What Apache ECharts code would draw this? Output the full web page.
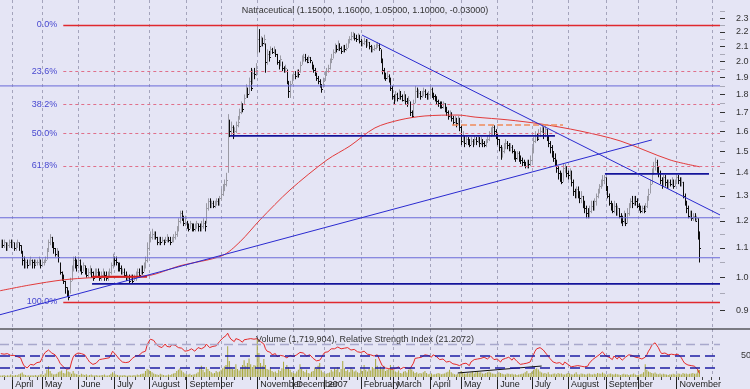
<!DOCTYPE html>
<html><head><meta charset="utf-8">
<script src="https://cdn.jsdelivr.net/npm/echarts@6/dist/echarts.min.js"></script>
<style>html,body{margin:0;padding:0;background:#e5e5f5;}#c{width:750px;height:389px;}</style>
</head><body><div id="c"></div>
<script>
// ---------------- DATA (x = trading-day index, starting 23 Mar 2006) ----------------
const hi = [
1.13,1.13,1.13,1.12,1.12,1.13,1.13,1.13,1.12,1.12,
1.13,1.12,1.11,1.09,1.07,1.06,1.06,1.06,1.07,1.06,
1.06,1.06,1.06,1.07,1.06,1.06,1.06,1.07,1.10,1.13,
1.15,1.14,1.12,1.10,1.10,1.09,1.05,1.02,1.01,0.99,
0.97,0.96,1.00,1.04,1.07,1.07,1.06,1.07,1.06,1.04,
1.05,1.04,1.03,1.03,1.04,1.03,1.02,1.03,1.03,1.03,
1.02,1.02,1.03,1.02,1.02,1.02,1.03,1.05,1.08,1.07,
1.07,1.05,1.05,1.04,1.03,1.03,1.02,1.01,1.01,1.01,
1.01,1.01,1.02,1.03,1.03,1.04,1.04,1.05,1.07,1.12,
1.15,1.16,1.17,1.16,1.16,1.14,1.14,1.14,1.14,1.13,
1.14,1.15,1.14,1.14,1.14,1.15,1.16,1.18,1.21,1.24,
1.24,1.22,1.22,1.20,1.19,1.20,1.19,1.19,1.19,1.20,
1.19,1.19,1.20,1.21,1.20,1.27,1.29,1.29,1.28,1.28,
1.28,1.29,1.29,1.30,1.33,1.35,1.37,1.40,1.69,1.66,
1.65,1.63,1.62,1.65,1.68,1.72,1.76,1.75,1.80,1.86,
1.84,1.90,1.96,1.95,1.96,1.99,2.24,2.22,2.17,2.16,
2.18,2.12,2.08,2.07,2.10,2.09,2.10,2.08,2.05,2.01,
2.04,2.00,1.97,1.98,1.95,1.88,1.88,1.92,1.94,1.94,
1.95,1.95,2.00,2.04,2.05,2.05,2.03,2.04,2.03,2.00,
1.98,1.96,1.93,1.91,1.89,1.86,1.90,1.94,1.96,1.98,
2.02,2.05,2.08,2.12,2.11,2.14,2.12,2.10,2.11,2.11,
2.12,2.15,2.17,2.20,2.20,2.19,2.18,2.19,2.18,2.15,
2.14,2.16,2.15,2.15,2.13,2.11,2.10,2.11,2.12,2.13,
2.12,2.08,2.02,1.96,1.93,1.94,1.92,1.90,1.85,1.80,
1.82,1.81,1.83,1.82,1.80,1.82,1.80,1.78,1.79,1.76,
1.71,1.77,1.85,1.84,1.83,1.82,1.82,1.84,1.83,1.81,
1.82,1.85,1.84,1.81,1.80,1.79,1.77,1.76,1.76,1.76,
1.75,1.73,1.71,1.71,1.70,1.68,1.68,1.67,1.68,1.67,
1.63,1.60,1.58,1.58,1.57,1.56,1.57,1.56,1.58,1.57,
1.58,1.57,1.57,1.56,1.55,1.56,1.58,1.60,1.62,1.63,
1.63,1.61,1.59,1.56,1.53,1.52,1.54,1.56,1.55,1.54,
1.54,1.53,1.51,1.50,1.50,1.50,1.48,1.47,1.46,1.45,
1.46,1.46,1.48,1.52,1.57,1.60,1.59,1.61,1.62,1.63,
1.62,1.63,1.61,1.58,1.55,1.53,1.50,1.49,1.46,1.43,
1.41,1.40,1.44,1.44,1.43,1.41,1.42,1.41,1.37,1.33,
1.34,1.34,1.32,1.32,1.30,1.28,1.26,1.25,1.26,1.28,
1.28,1.29,1.31,1.33,1.35,1.37,1.39,1.39,1.38,1.34,
1.31,1.28,1.27,1.28,1.27,1.26,1.25,1.23,1.22,1.24,
1.23,1.25,1.27,1.29,1.30,1.30,1.30,1.29,1.27,1.26,
1.26,1.26,1.27,1.30,1.33,1.37,1.42,1.45,1.47,1.46,
1.43,1.41,1.38,1.39,1.39,1.37,1.37,1.37,1.38,1.37,
1.37,1.39,1.39,1.38,1.38,1.36,1.31,1.28,1.26,1.24,
1.24,1.23,1.23,1.22,1.21,1.16];
const lo = [
1.10,1.10,1.10,1.09,1.09,1.10,1.10,1.10,1.09,1.09,
1.10,1.09,1.08,1.04,1.03,1.03,1.03,1.04,1.04,1.03,
1.03,1.04,1.04,1.04,1.03,1.04,1.04,1.05,1.06,1.09,
1.11,1.10,1.08,1.07,1.07,1.05,1.01,0.99,0.98,0.95,
0.94,0.93,0.95,0.99,1.02,1.03,1.02,1.03,1.02,1.01,
1.02,1.01,1.00,1.00,1.01,1.00,0.99,1.00,1.00,1.00,
0.99,0.99,1.00,0.99,0.99,0.99,1.00,1.01,1.03,1.04,
1.04,1.02,1.02,1.01,1.01,1.00,0.99,0.99,0.98,0.99,
0.98,0.99,0.99,1.00,1.00,1.01,1.01,1.02,1.03,1.05,
1.09,1.12,1.13,1.13,1.13,1.11,1.11,1.11,1.12,1.11,
1.12,1.12,1.12,1.11,1.12,1.12,1.13,1.14,1.16,1.19,
1.20,1.18,1.18,1.17,1.16,1.17,1.16,1.16,1.16,1.17,
1.16,1.16,1.16,1.17,1.16,1.19,1.24,1.25,1.25,1.25,
1.25,1.26,1.26,1.26,1.28,1.30,1.32,1.34,1.40,1.57,
1.58,1.56,1.57,1.59,1.62,1.66,1.69,1.70,1.74,1.78,
1.78,1.80,1.82,1.86,1.89,1.91,2.05,2.06,2.10,2.10,
2.11,1.93,1.98,2.00,2.04,2.05,2.05,2.03,1.98,1.95,
1.97,1.94,1.93,1.93,1.86,1.78,1.78,1.86,1.89,1.89,
1.90,1.90,1.93,1.98,2.00,2.00,1.99,2.00,1.99,1.95,
1.93,1.91,1.88,1.86,1.84,1.81,1.84,1.88,1.91,1.93,
1.95,1.99,2.02,2.05,2.06,2.07,2.07,2.05,2.06,2.06,
2.07,2.09,2.12,2.14,2.15,2.14,2.13,2.14,2.12,2.10,
2.10,2.11,2.09,2.10,2.08,2.06,2.06,2.07,2.08,2.09,
2.07,1.99,1.92,1.89,1.88,1.89,1.87,1.82,1.77,1.74,
1.76,1.76,1.77,1.77,1.76,1.76,1.74,1.73,1.74,1.68,
1.67,1.68,1.75,1.78,1.78,1.77,1.78,1.79,1.78,1.77,
1.77,1.79,1.78,1.77,1.76,1.74,1.73,1.72,1.72,1.72,
1.70,1.68,1.66,1.67,1.65,1.63,1.64,1.62,1.63,1.60,
1.53,1.54,1.52,1.53,1.53,1.52,1.53,1.52,1.53,1.53,
1.54,1.52,1.53,1.52,1.52,1.52,1.54,1.55,1.57,1.58,
1.58,1.56,1.53,1.50,1.46,1.47,1.49,1.51,1.51,1.50,
1.50,1.49,1.46,1.45,1.46,1.45,1.44,1.43,1.43,1.42,
1.42,1.42,1.43,1.45,1.49,1.54,1.55,1.56,1.57,1.59,
1.56,1.57,1.55,1.52,1.49,1.47,1.45,1.43,1.40,1.37,
1.36,1.35,1.36,1.40,1.38,1.37,1.37,1.34,1.30,1.29,
1.29,1.29,1.27,1.27,1.25,1.23,1.21,1.21,1.21,1.23,
1.24,1.24,1.26,1.29,1.31,1.33,1.34,1.35,1.32,1.29,
1.26,1.24,1.23,1.23,1.22,1.22,1.21,1.19,1.18,1.19,
1.18,1.19,1.22,1.25,1.25,1.26,1.26,1.25,1.24,1.23,
1.23,1.23,1.24,1.25,1.28,1.31,1.35,1.39,1.41,1.40,
1.38,1.35,1.33,1.34,1.34,1.33,1.33,1.34,1.34,1.33,
1.34,1.35,1.35,1.34,1.34,1.29,1.26,1.23,1.21,1.21,
1.20,1.20,1.20,1.20,1.13,1.05];
const cl = [
1.12,1.11,1.12,1.10,1.11,1.12,1.11,1.12,1.10,1.11,
1.12,1.11,1.09,1.06,1.05,1.05,1.04,1.05,1.06,1.05,
1.04,1.05,1.05,1.06,1.04,1.05,1.05,1.06,1.09,1.12,
1.14,1.12,1.10,1.08,1.09,1.07,1.02,1.00,0.99,0.97,
0.95,0.94,0.99,1.03,1.06,1.05,1.04,1.06,1.03,1.02,
1.04,1.03,1.01,1.02,1.03,1.02,1.00,1.01,1.02,1.01,
1.00,1.01,1.02,1.01,1.00,1.01,1.02,1.04,1.07,1.06,
1.05,1.04,1.03,1.02,1.02,1.01,1.00,1.00,0.99,1.00,
0.99,1.00,1.01,1.02,1.01,1.03,1.02,1.04,1.06,1.10,
1.13,1.14,1.15,1.15,1.14,1.12,1.13,1.12,1.13,1.12,
1.13,1.14,1.13,1.12,1.13,1.14,1.15,1.17,1.20,1.23,
1.22,1.19,1.21,1.18,1.17,1.19,1.18,1.17,1.18,1.19,
1.18,1.17,1.18,1.19,1.18,1.25,1.28,1.26,1.27,1.26,
1.27,1.28,1.27,1.29,1.31,1.33,1.35,1.37,1.62,1.60,
1.62,1.58,1.60,1.63,1.65,1.70,1.73,1.72,1.78,1.82,
1.80,1.88,1.84,1.93,1.92,1.95,2.15,2.10,2.14,2.12,
2.15,2.00,2.05,2.03,2.08,2.06,2.08,2.05,2.00,1.98,
2.02,1.96,1.94,1.96,1.88,1.82,1.86,1.90,1.92,1.91,
1.93,1.92,1.98,2.02,2.03,2.02,2.00,2.03,2.01,1.97,
1.95,1.93,1.90,1.88,1.86,1.83,1.88,1.92,1.94,1.96,
2.00,2.02,2.06,2.10,2.08,2.12,2.09,2.07,2.10,2.08,
2.09,2.13,2.15,2.17,2.18,2.16,2.15,2.17,2.14,2.12,
2.12,2.14,2.11,2.13,2.10,2.07,2.08,2.09,2.10,2.11,
2.09,2.02,1.95,1.92,1.90,1.91,1.89,1.84,1.79,1.77,
1.80,1.78,1.81,1.79,1.77,1.80,1.76,1.75,1.77,1.70,
1.68,1.75,1.82,1.80,1.81,1.79,1.80,1.82,1.80,1.78,
1.80,1.83,1.80,1.79,1.78,1.76,1.75,1.74,1.73,1.75,
1.72,1.70,1.68,1.69,1.67,1.65,1.66,1.64,1.66,1.62,
1.55,1.57,1.54,1.56,1.55,1.53,1.55,1.54,1.56,1.55,
1.57,1.54,1.55,1.54,1.53,1.55,1.56,1.58,1.60,1.62,
1.60,1.58,1.56,1.52,1.48,1.50,1.52,1.54,1.53,1.51,
1.52,1.50,1.48,1.47,1.49,1.47,1.46,1.45,1.44,1.43,
1.45,1.44,1.46,1.50,1.55,1.58,1.56,1.59,1.60,1.62,
1.58,1.61,1.57,1.54,1.52,1.50,1.47,1.45,1.42,1.40,
1.38,1.36,1.42,1.43,1.40,1.39,1.41,1.36,1.32,1.30,
1.33,1.31,1.29,1.30,1.27,1.25,1.23,1.22,1.24,1.26,
1.25,1.28,1.30,1.32,1.34,1.35,1.37,1.38,1.34,1.30,
1.27,1.25,1.24,1.26,1.23,1.25,1.22,1.21,1.20,1.22,
1.19,1.23,1.26,1.28,1.27,1.29,1.28,1.26,1.25,1.24,
1.25,1.24,1.26,1.29,1.31,1.35,1.40,1.43,1.45,1.42,
1.40,1.37,1.35,1.38,1.36,1.34,1.36,1.35,1.37,1.34,
1.36,1.38,1.37,1.35,1.36,1.30,1.27,1.25,1.22,1.23,
1.21,1.22,1.20,1.21,1.14,1.10];
// 200-day moving average as drawn on the chart: [trading-day index, price]
const movingAvg = [[-0.5,0.959],[17.8,0.977],[37.8,0.993],[55.5,1.0],[88.9,1.006],[109,1.039],[134.6,1.073],
  [145.5,1.122],[157.7,1.204],[175.9,1.325],[198.4,1.459],[212.4,1.526],[227.6,1.617],[242.8,1.659],
  [258,1.68],[278.1,1.685],[288.5,1.674],[308.5,1.659],[328,1.638],[352.3,1.601],[376.7,1.551],
  [407.1,1.459],[425.3,1.427]];
// volume (thousands of shares)
const vol = [
400,350,500,300,450,380,600,420,350,500,
450,700,900,1100,600,500,400,450,380,420,
350,500,400,450,600,700,500,900,1800,2700,
1500,900,600,700,800,1200,1400,1600,1000,900,
1800,1400,1200,800,1500,900,700,600,500,800,
600,500,700,400,500,600,450,400,500,350,
400,450,500,600,400,350,500,800,1200,900,
600,500,400,450,350,500,400,300,450,400,
350,500,400,600,500,700,800,900,1500,2000,
1800,1500,1200,900,700,600,500,800,600,500,
400,450,600,500,700,900,1000,1500,1800,2200,
1600,1200,900,700,600,800,500,600,700,900,
1200,2200,2800,1800,1200,2500,2000,1500,1200,900,
1000,1500,1200,1400,1800,2200,2600,3000,7700,4000,
2500,2000,1800,3200,2000,1600,2200,3000,4200,2800,
3500,4600,3200,2500,3000,2800,9500,6000,3500,2800,
4500,3000,2000,1800,2500,1500,1200,1400,1000,1800,
1500,2200,3800,2000,3000,2500,1800,1200,1000,900,
1400,1800,3200,2000,1500,1200,1800,1000,900,1300,
1500,2400,2000,2800,3500,1600,1200,900,800,1000,
1100,1800,1400,2200,1800,2500,1200,2000,4000,2200,
1500,1800,1200,2400,1900,1400,1600,1200,1000,2000,
1500,3000,1800,1400,2000,1600,2500,2200,4500,2800,
1900,2600,2000,2800,1500,1800,2000,3000,2200,1800,
1400,1200,1600,1000,900,1300,1500,1100,1800,2500,
1900,1400,1000,1200,800,1000,900,1200,1500,1000,
700,800,900,600,700,800,1000,900,700,800,
900,1100,1300,1800,1200,900,700,600,800,900,
1500,1200,900,800,1000,900,1100,1300,900,1200,
1400,1100,1200,900,800,1000,1200,1400,1100,900,
800,700,900,1200,1000,800,700,600,900,800,
700,800,600,700,500,600,700,800,900,1200,
1500,900,1000,1300,1800,2000,2200,1900,1400,1100,
900,1000,800,1200,700,600,800,900,700,1000,
800,900,700,600,800,1000,900,700,600,800,
1200,700,600,900,800,700,600,800,900,700,
600,800,700,1000,900,800,1100,900,700,600,
800,900,700,600,800,700,600,500,700,800,
600,700,500,600,700,900,600,500,600,700,
800,1200,3200,1800,1400,1200,1000,900,1100,800,
700,900,600,800,700,600,500,700,600,800,
700,600,900,800,600,1000,800,900,700,800,
900,1000,800,900,1800,1720];
const rsi = [
54,55,53,52,54,53,51,50,51,50,
49,50,47,40,34,31,30,33,36,38,
35,37,39,36,40,46,52,56,58,60,
57,55,53,52,48,44,38,35,32,30,
28,27,29,40,48,52,53,55,57,54,
55,52,48,44,40,37,36,35,38,41,
44,42,45,43,46,44,47,52,58,56,
52,49,45,42,40,38,39,37,40,43,
46,49,50,53,51,54,56,55,58,68,
74,78,80,76,72,69,66,68,64,67,
70,66,63,65,69,71,68,66,64,67,
63,60,58,56,59,57,62,60,58,61,
64,66,62,60,65,70,68,64,62,66,
69,67,70,74,77,80,82,84,88,82,
78,76,74,79,80,77,75,73,77,80,
78,76,79,80,78,76,79,78,74,72,
70,62,58,60,56,52,50,54,49,47,
51,48,50,48,47,49,51,52,49,50,
52,55,56,54,55,53,50,48,52,50,
46,44,42,40,43,47,52,56,58,57,
60,62,64,62,63,65,64,62,60,63,
61,64,62,60,58,61,59,57,60,56,
54,58,55,53,56,52,51,50,53,52,
49,40,34,31,30,32,29,30,28,31,
29,30,32,28,30,31,29,30,27,29,
28,38,46,48,47,50,48,50,52,49,
51,50,48,52,51,49,46,44,42,45,
43,40,38,41,39,37,40,36,38,34,
33,37,35,38,36,34,40,42,44,41,
45,43,46,44,48,46,45,47,50,49,
44,46,45,42,40,44,42,46,44,48,
45,43,47,45,41,38,36,34,37,35,
38,36,40,46,52,58,62,60,64,66,
60,58,53,50,46,43,40,42,38,36,
39,37,35,40,38,36,34,32,35,33,
36,34,31,33,35,32,34,33,38,41,
44,46,48,50,52,54,57,55,50,52,
48,46,44,50,47,45,49,46,43,46,
48,50,52,49,51,50,48,46,47,46,
45,46,48,52,58,62,68,70,72,70,
64,58,54,52,55,53,52,54,53,50,
52,54,53,52,47,42,38,36,35,35,
34,35,33,34,27,21];
// month starts (trading-day index) and their tick labels ('' = label not shown on original)
const monthStartIdx = [7,25,47,69,90,113,134,156,178,197,219,239,261,280,302,323,345,368,388,411,433];
const monthLabels = ['April','May','June','July','August','September','','November','December','2007',
  'February','March','April','May','June','July','August','September','','November','December'];
const priceTicks = [0.9,1.0,1.1,1.2,1.3,1.4,1.5,1.6,1.7,1.8,1.9,2.0,2.1,2.2,2.3];
const priceMinorTicks = [0.95,1.05,1.15,1.25,1.35,1.45,1.55,1.65,1.75,1.85,1.95,2.05,2.15,2.25,2.35];
const rsiTicks = [50];
const rsiLevels = [70, 50, 30];
// Fibonacci retracement
const fibPct = [0, 23.6, 38.2, 50, 61.8, 100];
const fibHigh = 2.25, fibLow = 0.925, fibStartIdx = 38;
// drawn horizontal levels: [fromIdx, toIdx, price, style]
const levelLines = [
  [-0.5, 437.5, 1.850, 'thin'],
  [-0.5, 437.5, 1.212, 'thin'],
  [-0.5, 437.5, 1.066, 'thin'],
  [55.5, 437.5, 0.9805, 'dark'],
  [139.4, 337.1, 1.576, 'dark'],
  [367.5, 430.8, 1.395, 'dark'],
  [274.5, 342, 1.632, 'orange'],
  [55.5, 88.9, 1.003, 'red']
];
// drawn trend lines: [[idx, price], [idx, price]]
const trendLines = [
  [[-0.5, 0.888], [396.1, 1.556]],
  [[219.7, 2.178], [437.5, 1.223]]
];
// trend line drawn on the RSI pane: [[idx, rsi], [idx, rsi]]
const rsiTrend = [[278, 21.7], [329, 33.3]];

// ---------------- CHART ----------------
const FONT = "'Liberation Sans Narrow','Arial Narrow','Liberation Sans',Arial,sans-serif";
const X_MIN = -0.5, X_MAX = 437.5;
const P_MIN = 0.851, P_MAX = 2.437;
const BG = '#e5e5f5';

const labelOf = {};
monthStartIdx.forEach((d, k) => { labelOf[d] = monthLabels[k]; });
const labelIdx = monthStartIdx.filter((d, k) => monthLabels[k] !== '');
const weekTicks = [];
for (let d = 2; d <= X_MAX; d += 5) weekTicks.push(d);

const barData = cl.map((c, i) => [i, hi[i], lo[i], c, (i === 0 || c >= cl[i - 1]) ? 1 : 0]);

const levelStyle = {
  thin: { color: '#6a6ad8', width: 1, type: 'solid' },
  dark: { color: '#14149a', width: 1.6, type: 'solid' },
  orange: { color: '#f08a5a', width: 1.3, type: [6, 3] },
  red: { color: '#d42020', width: 2, type: 'solid' }
};

const lineSeries = [];
levelLines.forEach(l => {
  lineSeries.push({
    type: 'line', xAxisIndex: 0, yAxisIndex: 0, silent: true, symbol: 'none', z: 5,
    data: [[l[0], l[2]], [l[1], l[2]]], lineStyle: levelStyle[l[3]]
  });
});
trendLines.forEach(t => {
  lineSeries.push({
    type: 'line', xAxisIndex: 0, yAxisIndex: 0, silent: true, symbol: 'none', z: 5,
    data: t, lineStyle: { color: '#2a2ad0', width: 1 }
  });
});

const fibMarks = fibPct.map(p => {
  const v = fibHigh - p / 100 * (fibHigh - fibLow);
  const solid = (p === 0 || p === 100);
  return [{
    coord: [fibStartIdx, v],
    lineStyle: solid ? { color: '#e0282e', width: 1.4, type: 'solid' } : { color: '#e0708a', width: 1, type: [3, 3] },
    label: { show: true, position: 'start', distance: 6, formatter: p.toFixed(1) + '%', color: '#4848d0', fontSize: 9, fontFamily: FONT }
  }, { coord: [X_MAX, v] }];
});

const chart = echarts.init(document.getElementById('c'), null, { renderer: 'canvas' });
chart.setOption({
  animation: false,
  backgroundColor: BG,
  title: [
    { text: 'Natraceutical (1.15000, 1.16000, 1.05000, 1.10000, -0.03000)', left: 360, top: 1, textAlign: 'center',
      textStyle: { fontSize: 9, fontWeight: 'normal', color: '#333', fontFamily: FONT } },
    { text: 'Volume (1,719,904), Relative Strength Index (21.2072)', left: 360, top: 330, textAlign: 'center',
      textStyle: { fontSize: 9, fontWeight: 'normal', color: '#333', fontFamily: FONT } }
  ],
  graphic: [{ type: 'line', shape: { x1: 0, y1: 329, x2: 750, y2: 329 }, style: { stroke: '#111', lineWidth: 1.2 }, z: 100 }],
  grid: [
    { left: 0, top: 0, width: 720, height: 328, containLabel: false, outerBoundsMode: 'none' },
    { left: 0, top: 329, width: 720, height: 48, containLabel: false, outerBoundsMode: 'none' }
  ],
  xAxis: [
    { gridIndex: 0, type: 'value', min: X_MIN, max: X_MAX, axisLine: { show: false }, axisLabel: { show: false },
      axisTick: { show: false, customValues: monthStartIdx },
      splitLine: { show: true, lineStyle: { color: '#a4a4bc', width: 1, type: [3, 3] } } },
    { gridIndex: 1, type: 'value', min: X_MIN, max: X_MAX, position: 'bottom', axisLine: { show: false },
      axisTick: { show: true, customValues: monthStartIdx, length: 12, lineStyle: { color: '#222', width: 1 } },
      axisLabel: { show: true, customValues: labelIdx, formatter: v => labelOf[v] || '', align: 'left', margin: 3,
        padding: [0, 0, 0, 3], fontSize: 9, color: '#222', fontFamily: FONT, hideOverlap: false },
      splitLine: { show: true, lineStyle: { color: '#a4a4bc', width: 1, type: [3, 3] } } },
    { gridIndex: 1, type: 'value', min: X_MIN, max: X_MAX, position: 'bottom', axisLine: { show: false },
      axisLabel: { show: false }, splitLine: { show: false },
      axisTick: { show: true, customValues: weekTicks, length: 3, lineStyle: { color: '#444' } } }
  ],
  yAxis: [
    { gridIndex: 0, type: 'log', logBase: 10, min: P_MIN, max: P_MAX, show: false },
    { gridIndex: 0, type: 'value', min: Math.log(P_MIN), max: Math.log(P_MAX), position: 'right',
      axisLine: { show: false }, splitLine: { show: false },
      axisTick: { show: true, customValues: priceTicks.map(Math.log), length: 5, lineStyle: { color: '#333' } },
      axisLabel: { show: true, customValues: priceTicks.map(Math.log), formatter: v => Math.exp(v).toFixed(1),
        margin: 16, fontSize: 9, color: '#333', fontFamily: FONT } },
    { gridIndex: 0, type: 'value', min: Math.log(P_MIN), max: Math.log(P_MAX), position: 'right',
      axisLine: { show: false }, splitLine: { show: false }, axisLabel: { show: false },
      axisTick: { show: true, customValues: priceMinorTicks.map(Math.log), length: 5, lineStyle: { color: '#aaaab8' } } },
    { gridIndex: 1, type: 'value', min: 15, max: 95, position: 'right', axisLine: { show: false }, splitLine: { show: false },
      axisTick: { show: false },
      axisLabel: { show: true, customValues: rsiTicks, margin: 21, fontSize: 9, color: '#333', fontFamily: FONT } },
    { gridIndex: 1, type: 'value', min: 0, max: 12000, show: false }
  ],
  series: [
    { type: 'bar', xAxisIndex: 1, yAxisIndex: 4, barWidth: 1, silent: true, z: 1,
      itemStyle: { color: '#a9a93c' }, data: vol.map((v, i) => [i, v]) },
    { type: 'line', xAxisIndex: 1, yAxisIndex: 3, symbol: 'none', silent: true, z: 4,
      lineStyle: { color: '#e42a2a', width: 1 }, data: rsi.map((v, i) => [i, v]),
      markLine: { silent: true, symbol: ['none', 'none'], label: { show: false },
        data: rsiLevels.map(l => ({ yAxis: l, lineStyle: l === 70 ? { color: '#a8a8cc', width: 1.3, type: [9, 5] } : { color: '#1c1ca4', width: 1.6, type: [10, 5] } })) } },
    { type: 'line', xAxisIndex: 1, yAxisIndex: 3, symbol: 'none', silent: true, z: 4,
      lineStyle: { color: '#111', width: 1 }, data: rsiTrend },
    { type: 'custom', xAxisIndex: 0, yAxisIndex: 0, silent: true, z: 2, clip: true,
      encode: { x: 0, y: [1, 2] }, data: barData,
      renderItem: (params, api) => {
        const i = api.value(0);
        const pH = api.coord([i, api.value(1)]);
        const pL = api.coord([i, api.value(2)]);
        const pC = api.coord([i, api.value(3)]);
        const x = Math.round(pH[0]) + 0.5;
        const yc = Math.round(pC[1]) + 0.5;
        const col = api.value(4) ? '#9a9aa4' : '#0c0c0c';
        return { type: 'group', children: [
          { type: 'line', shape: { x1: x, y1: pH[1], x2: x, y2: pL[1] }, style: { stroke: col, lineWidth: 1 } },
          { type: 'line', shape: { x1: x, y1: yc, x2: x + 1.5, y2: yc }, style: { stroke: col, lineWidth: 1 } }
        ] };
      } },
    { type: 'line', xAxisIndex: 0, yAxisIndex: 0, symbol: 'none', silent: true, z: 4, smooth: 0.3,
      lineStyle: { color: '#e23a3a', width: 1 }, data: movingAvg,
      markLine: { silent: true, symbol: ['none', 'none'], data: fibMarks } },
    ...lineSeries
  ]
});
</script>
</body></html>
